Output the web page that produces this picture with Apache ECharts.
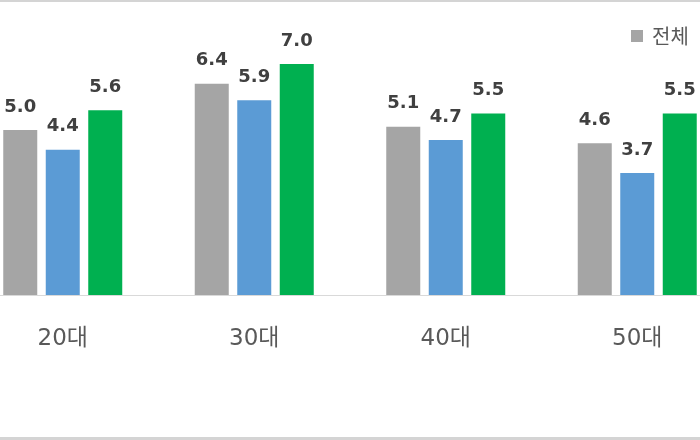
<!DOCTYPE html>
<html>
<head>
<meta charset="utf-8">
<script src="https://cdn.jsdelivr.net/npm/echarts@6/dist/echarts.min.js"></script>
<style>
html,body{margin:0;padding:0;background:#fff;overflow:hidden;width:700px;height:440px;}
#wrap{position:relative;width:700px;height:440px;overflow:hidden;}
#chart{position:absolute;left:-33px;top:0;width:766px;height:440px;}
</style>
</head>
<body>
<div id="wrap"><div id="chart"></div></div>
<script>
const categories = ['20대', '30대', '40대', '50대'];
const seriesNames = ['전체', '남성', '여성'];
const totalValues = [5.0, 6.4, 5.1, 4.6];
const maleValues = [4.4, 5.9, 4.7, 3.7];
const femaleValues = [5.6, 7.0, 5.5, 5.5];
const legendItems = ['전체'];

const colors = ['#A5A5A5', '#5B9BD5', '#00B050'];
const chart = echarts.init(document.getElementById('chart'));
const shift = 33;

const labelStyle = {
  show: true,
  position: 'top',
  distance: 14,
  formatter: p => p.value.toFixed(1),
  color: '#404040',
  fontFamily: 'DejaVu Sans',
  fontWeight: 'bold',
  fontSize: 18
};

function makeSeries(name, data, color) {
  return {
    name: name,
    type: 'bar',
    data: data,
    barWidth: 34,
    barGap: '25%',
    itemStyle: { color: color },
    label: labelStyle,
    emphasis: { disabled: true }
  };
}

chart.setOption({
  animation: false,
  backgroundColor: '#ffffff',
  color: colors,
  legend: {
    data: legendItems,
    left: 626 + shift,
    top: 21,
    icon: 'rect',
    itemWidth: 12,
    itemHeight: 12,
    itemGap: 20,
    textStyle: {
      color: '#595959',
      fontSize: 20,
      fontFamily: 'Noto Sans CJK KR',
      padding: [0, 0, 0, 4]
    }
  },
  grid: { left: 0, right: 0, top: 31, bottom: 145, containLabel: false },
  xAxis: {
    type: 'category',
    data: categories,
    axisLine: { show: true, lineStyle: { color: '#D9D9D9', width: 1 } },
    axisTick: { show: false },
    axisLabel: {
      margin: 33,
      color: '#595959',
      fontSize: 23,
      fontFamily: 'DejaVu Sans, Noto Sans CJK KR'
    }
  },
  yAxis: {
    type: 'value',
    min: 0,
    max: 8,
    show: false,
    splitLine: { show: false }
  },
  series: [
    makeSeries(seriesNames[0], totalValues, colors[0]),
    makeSeries(seriesNames[1], maleValues, colors[1]),
    makeSeries(seriesNames[2], femaleValues, colors[2])
  ],
  graphic: [
    { type: 'rect', shape: { x: 0, y: 0, width: 766, height: 2 }, style: { fill: '#D4D4D4' }, silent: true },
    { type: 'rect', shape: { x: 0, y: 437, width: 766, height: 3 }, style: { fill: '#D4D4D4' }, silent: true }
  ]
});
</script>
</body>
</html>
